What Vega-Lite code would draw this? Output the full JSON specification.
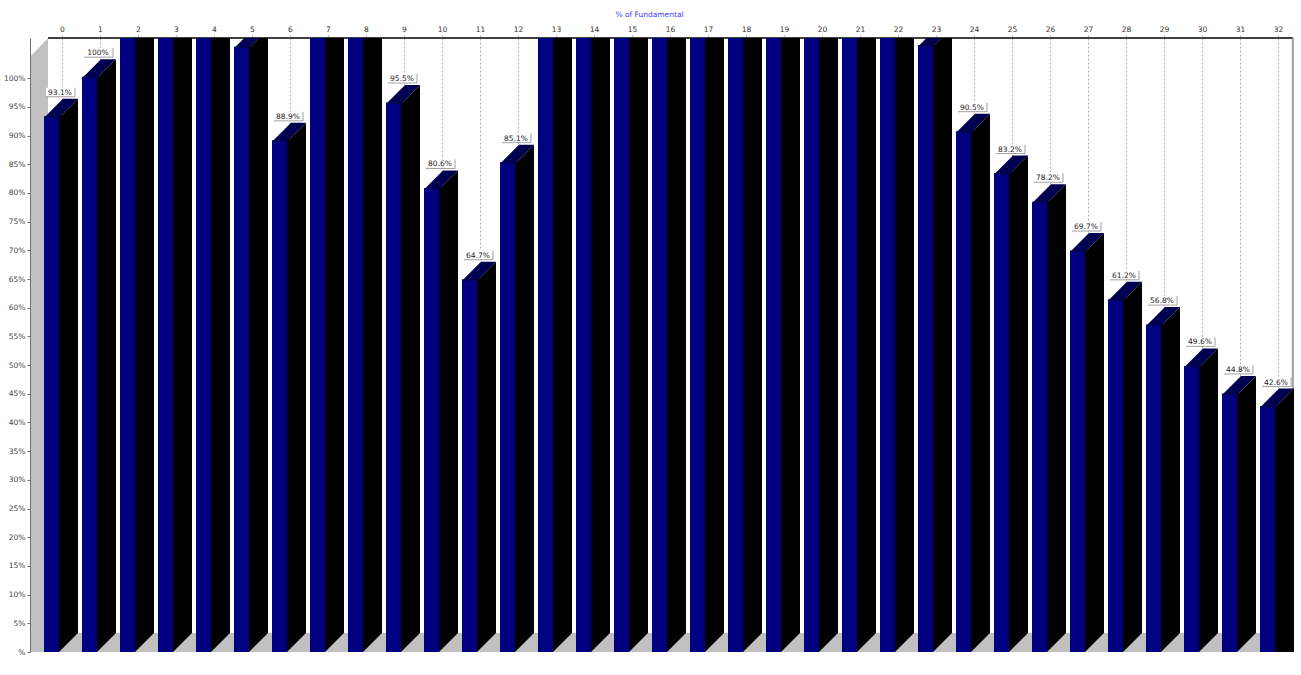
{
  "$schema": "https://vega.github.io/schema/vega-lite/v6.json",
  "width": 1267,
  "height": 614,
  "autosize": "none",
  "padding": {"left": 30, "top": 38, "right": 4, "bottom": 23},
  "background": "white",
  "config": {"view": {"stroke": null}, "font": "DejaVu Sans"},
  "data": {"values": [
    {"idx": 0, "v": 93.1, "label": "93.1%"},
    {"idx": 1, "v": 100, "label": "100%"},
    {"idx": 2, "v": 110, "label": ""},
    {"idx": 3, "v": 110, "label": ""},
    {"idx": 4, "v": 110, "label": ""},
    {"idx": 5, "v": 105.2, "label": ""},
    {"idx": 6, "v": 88.9, "label": "88.9%"},
    {"idx": 7, "v": 110, "label": ""},
    {"idx": 8, "v": 110, "label": ""},
    {"idx": 9, "v": 95.5, "label": "95.5%"},
    {"idx": 10, "v": 80.6, "label": "80.6%"},
    {"idx": 11, "v": 64.7, "label": "64.7%"},
    {"idx": 12, "v": 85.1, "label": "85.1%"},
    {"idx": 13, "v": 110, "label": ""},
    {"idx": 14, "v": 110, "label": ""},
    {"idx": 15, "v": 110, "label": ""},
    {"idx": 16, "v": 110, "label": ""},
    {"idx": 17, "v": 110, "label": ""},
    {"idx": 18, "v": 110, "label": ""},
    {"idx": 19, "v": 110, "label": ""},
    {"idx": 20, "v": 110, "label": ""},
    {"idx": 21, "v": 110, "label": ""},
    {"idx": 22, "v": 110, "label": ""},
    {"idx": 23, "v": 105.5, "label": ""},
    {"idx": 24, "v": 90.5, "label": "90.5%"},
    {"idx": 25, "v": 83.2, "label": "83.2%"},
    {"idx": 26, "v": 78.2, "label": "78.2%"},
    {"idx": 27, "v": 69.7, "label": "69.7%"},
    {"idx": 28, "v": 61.2, "label": "61.2%"},
    {"idx": 29, "v": 56.8, "label": "56.8%"},
    {"idx": 30, "v": 49.6, "label": "49.6%"},
    {"idx": 31, "v": 44.8, "label": "44.8%"},
    {"idx": 32, "v": 42.6, "label": "42.6%"}
  ]},
  "layer": [
    {
      "data": {"values": [{}]},
      "mark": {"type": "rect", "fill": "#c0c0c0"},
      "encoding": {
        "x": {"datum": -0.8421, "type": "quantitative",
          "scale": {"domain": [-0.8421, 32.5], "nice": false, "zero": false, "padding": 0},
          "axis": {"orient": "top", "values": [0,1,2,3,4,5,6,7,8,9,10,11,12,13,14,15,16,17,18,19,20,21,22,23,24,25,26,27,28,29,30,31,32],
            "format": "d", "labelFontSize": 7.5, "labelColor": "#333333", "labelPadding": 2, "labelOverlap": false,
            "tickSize": 3, "tickColor": "#b0b0b0", "domain": false,
            "grid": true, "gridDash": [2, 2], "gridColor": "#b0b0b0",
            "title": "% of Fundamental", "titleFontSize": 7.5, "titleFontWeight": "normal", "titleColor": "#3b3bff",
            "titleX": 619, "titleY": -24, "titleBaseline": "middle", "titleAnchor": "middle"}},
        "x2": {"datum": 32.42},
        "y": {"datum": 0, "type": "quantitative",
          "scale": {"domain": [0, 107], "nice": false, "zero": false, "padding": 0},
          "axis": {"orient": "left", "values": [0,5,10,15,20,25,30,35,40,45,50,55,60,65,70,75,80,85,90,95,100],
            "labelExpr": "datum.value === 0 ? '%' : datum.value + '%'",
            "labelFontSize": 7.5, "labelColor": "#444444", "labelPadding": 2, "labelOverlap": false,
            "tickSize": 3, "tickColor": "#707070", "domainColor": "#707070", "grid": false, "title": null, "zindex": 1}},
        "y2": {"datum": 3.31}
      }
    },
    {
      "data": {"values": [{}]},
      "mark": {"type": "rect", "fill": "#c0c0c0"},
      "encoding": {
        "x": {"datum": -0.8421, "type": "quantitative", "axis": {"values": [0,1,2,3,4,5,6,7,8,9,10,11,12,13,14,15,16,17,18,19,20,21,22,23,24,25,26,27,28,29,30,31,32], "title": "% of Fundamental"}},
        "x2": {"datum": -0.3684},
        "y": {"datum": 3.31, "type": "quantitative", "axis": {"values": [0,5,10,15,20,25,30,35,40,45,50,55,60,65,70,75,80,85,90,95,100], "title": null}},
        "y2": {"datum": 103.7}
      }
    },
    {
      "data": {"values": [{}]},
      "mark": {"type": "point", "shape": "M -1.8 0 L 0 0 L 0 -1.9 Z", "size": 400, "filled": true, "fill": "#c0c0c0", "strokeWidth": 0, "opacity": 1},
      "encoding": {
        "x": {"datum": -0.3684, "type": "quantitative", "axis": {"values": [0,1,2,3,4,5,6,7,8,9,10,11,12,13,14,15,16,17,18,19,20,21,22,23,24,25,26,27,28,29,30,31,32], "title": "% of Fundamental"}},
        "y": {"datum": 103.7, "type": "quantitative", "axis": {"values": [0,5,10,15,20,25,30,35,40,45,50,55,60,65,70,75,80,85,90,95,100], "title": null}}
      }
    },
    {
      "data": {"values": [{}]},
      "mark": {"type": "rule", "stroke": "#404040", "strokeWidth": 2},
      "encoding": {
        "x": {"datum": -0.3684, "type": "quantitative", "axis": {"values": [0,1,2,3,4,5,6,7,8,9,10,11,12,13,14,15,16,17,18,19,20,21,22,23,24,25,26,27,28,29,30,31,32], "title": "% of Fundamental"}},
        "x2": {"datum": 32.39},
        "y": {"datum": 107, "type": "quantitative", "axis": {"values": [0,5,10,15,20,25,30,35,40,45,50,55,60,65,70,75,80,85,90,95,100], "title": null}}
      }
    },
    {
      "data": {"values": [{}]},
      "mark": {"type": "rule", "stroke": "#a0a0a0", "strokeWidth": 2},
      "encoding": {
        "x": {"datum": 32.39, "type": "quantitative", "axis": {"values": [0,1,2,3,4,5,6,7,8,9,10,11,12,13,14,15,16,17,18,19,20,21,22,23,24,25,26,27,28,29,30,31,32], "title": "% of Fundamental"}},
        "y": {"datum": 3.31, "type": "quantitative", "axis": {"values": [0,5,10,15,20,25,30,35,40,45,50,55,60,65,70,75,80,85,90,95,100], "title": null}},
        "y2": {"datum": 107}
      }
    },
    {
      "mark": {"type": "bar", "width": 19, "xOffset": 6.5, "yOffset": -2, "fill": "#000000", "clip": true},
      "encoding": {
        "x": {"field": "idx", "type": "quantitative", "axis": {"values": [0,1,2,3,4,5,6,7,8,9,10,11,12,13,14,15,16,17,18,19,20,21,22,23,24,25,26,27,28,29,30,31,32], "title": "% of Fundamental"}},
        "y": {"field": "v", "type": "quantitative", "axis": {"values": [0,5,10,15,20,25,30,35,40,45,50,55,60,65,70,75,80,85,90,95,100], "title": null}},
        "y2": {"datum": 0}
      }
    },
    {
      "transform": [{"filter": "datum.idx < 32"}],
      "mark": {"type": "point", "shape": "M -0.15 0 L 0.8 0 L 0.8 -0.95 Z", "size": 1600, "filled": true, "fill": "#c0c0c0", "strokeWidth": 0, "opacity": 1},
      "encoding": {
        "x": {"field": "idx", "type": "quantitative", "axis": {"values": [0,1,2,3,4,5,6,7,8,9,10,11,12,13,14,15,16,17,18,19,20,21,22,23,24,25,26,27,28,29,30,31,32], "title": "% of Fundamental"}},
        "y": {"datum": 0, "type": "quantitative", "axis": {"values": [0,5,10,15,20,25,30,35,40,45,50,55,60,65,70,75,80,85,90,95,100], "title": null}}
      }
    },
    {
      "mark": {"type": "bar", "width": 15, "xOffset": -10.5, "yOffset": -1.5, "fill": "#000080", "clip": true},
      "encoding": {
        "x": {"field": "idx", "type": "quantitative", "axis": {"values": [0,1,2,3,4,5,6,7,8,9,10,11,12,13,14,15,16,17,18,19,20,21,22,23,24,25,26,27,28,29,30,31,32], "title": "% of Fundamental"}},
        "y": {"field": "v", "type": "quantitative", "axis": {"values": [0,5,10,15,20,25,30,35,40,45,50,55,60,65,70,75,80,85,90,95,100], "title": null}},
        "y2": {"datum": 0}
      }
    },
    {
      "mark": {"type": "point", "shape": "M -0.9 0 L -0.15 0 L 0.8 -0.95 L 0.05 -0.95 Z", "size": 1600, "filled": true, "fill": "#000050", "strokeWidth": 0, "opacity": 1, "clip": true},
      "encoding": {
        "x": {"field": "idx", "type": "quantitative", "axis": {"values": [0,1,2,3,4,5,6,7,8,9,10,11,12,13,14,15,16,17,18,19,20,21,22,23,24,25,26,27,28,29,30,31,32], "title": "% of Fundamental"}},
        "y": {"field": "v", "type": "quantitative", "axis": {"values": [0,5,10,15,20,25,30,35,40,45,50,55,60,65,70,75,80,85,90,95,100], "title": null}}
      }
    },
    {
      "mark": {"type": "point", "shape": "M -0.15 0 L 0.8 -0.95 L 0.8 0 Z", "size": 1600, "filled": true, "fill": "#000000", "strokeWidth": 0, "opacity": 1, "clip": true},
      "encoding": {
        "x": {"field": "idx", "type": "quantitative", "axis": {"values": [0,1,2,3,4,5,6,7,8,9,10,11,12,13,14,15,16,17,18,19,20,21,22,23,24,25,26,27,28,29,30,31,32], "title": "% of Fundamental"}},
        "y": {"field": "v", "type": "quantitative", "axis": {"values": [0,5,10,15,20,25,30,35,40,45,50,55,60,65,70,75,80,85,90,95,100], "title": null}}
      }
    },
    {
      "transform": [{"filter": "datum.label != ''"}],
      "mark": {"type": "point", "shape": "M -0.8 -1.5 L 0.65 -1.5 L 0.65 -1.05 L -0.8 -1.05 Z", "size": 1600, "filled": true, "fill": "#ffffff", "strokeWidth": 0, "opacity": 1, "clip": true},
      "encoding": {
        "x": {"field": "idx", "type": "quantitative", "axis": {"values": [0,1,2,3,4,5,6,7,8,9,10,11,12,13,14,15,16,17,18,19,20,21,22,23,24,25,26,27,28,29,30,31,32], "title": "% of Fundamental"}},
        "y": {"field": "v", "type": "quantitative", "axis": {"values": [0,5,10,15,20,25,30,35,40,45,50,55,60,65,70,75,80,85,90,95,100], "title": null}}
      }
    },
    {
      "transform": [{"filter": "datum.label != ''"}],
      "mark": {"type": "point", "shape": "M -0.8 -1.05 L 0.65 -1.05 L 0.65 -1.5", "size": 1600, "filled": false, "stroke": "#a0a0a0", "strokeWidth": 1, "opacity": 1, "clip": true},
      "encoding": {
        "x": {"field": "idx", "type": "quantitative", "axis": {"values": [0,1,2,3,4,5,6,7,8,9,10,11,12,13,14,15,16,17,18,19,20,21,22,23,24,25,26,27,28,29,30,31,32], "title": "% of Fundamental"}},
        "y": {"field": "v", "type": "quantitative", "axis": {"values": [0,5,10,15,20,25,30,35,40,45,50,55,60,65,70,75,80,85,90,95,100], "title": null}}
      }
    },
    {
      "transform": [{"filter": "datum.label != ''"}],
      "mark": {"type": "text", "fontSize": 7.5, "color": "#222222", "dx": -2, "dy": -25, "baseline": "middle", "align": "center", "clip": true},
      "encoding": {
        "x": {"field": "idx", "type": "quantitative", "axis": {"values": [0,1,2,3,4,5,6,7,8,9,10,11,12,13,14,15,16,17,18,19,20,21,22,23,24,25,26,27,28,29,30,31,32], "title": "% of Fundamental"}},
        "y": {"field": "v", "type": "quantitative", "axis": {"values": [0,5,10,15,20,25,30,35,40,45,50,55,60,65,70,75,80,85,90,95,100], "title": null}},
        "text": {"field": "label"}
      }
    }
  ]
}
